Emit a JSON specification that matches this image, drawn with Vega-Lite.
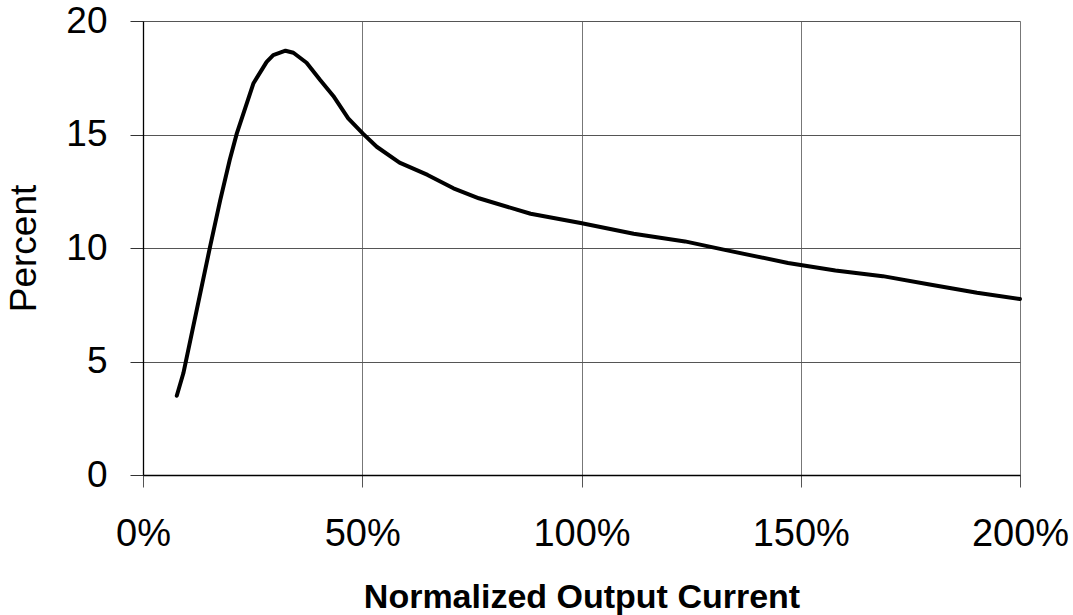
{
  "$schema": "https://vega.github.io/schema/vega-lite/v6.json",
  "width": 877,
  "height": 454,
  "autosize": {"type": "none"},
  "padding": {"left": 143, "top": 21, "right": 53, "bottom": 140},
  "background": "white",
  "config": {
    "view": {"stroke": null},
    "font": "Liberation Sans"
  },
  "data": {
    "values": [
      {"current": 7.7, "percent": 3.49},
      {"current": 9.2, "percent": 4.48},
      {"current": 15.3, "percent": 10.06},
      {"current": 17.6, "percent": 12.1},
      {"current": 19.8, "percent": 13.9},
      {"current": 21.4, "percent": 15.05},
      {"current": 25.2, "percent": 17.26},
      {"current": 28.2, "percent": 18.2},
      {"current": 29.7, "percent": 18.5},
      {"current": 32.5, "percent": 18.69},
      {"current": 34.3, "percent": 18.6},
      {"current": 37.3, "percent": 18.16},
      {"current": 40.4, "percent": 17.4},
      {"current": 43.4, "percent": 16.7},
      {"current": 46.8, "percent": 15.71},
      {"current": 50.1, "percent": 15.05},
      {"current": 53.3, "percent": 14.46},
      {"current": 58.5, "percent": 13.76},
      {"current": 64.9, "percent": 13.22},
      {"current": 70.8, "percent": 12.63},
      {"current": 76.6, "percent": 12.19},
      {"current": 88.4, "percent": 11.51},
      {"current": 99.8, "percent": 11.1},
      {"current": 111.9, "percent": 10.63},
      {"current": 123.6, "percent": 10.29},
      {"current": 132.4, "percent": 9.93},
      {"current": 147.1, "percent": 9.34},
      {"current": 157.9, "percent": 9.01},
      {"current": 168.7, "percent": 8.76},
      {"current": 179.4, "percent": 8.39},
      {"current": 190.2, "percent": 8.03},
      {"current": 200, "percent": 7.75}
    ]
  },
  "mark": {"type": "line", "color": "black", "strokeWidth": 4, "strokeJoin": "round", "strokeCap": "round"},
  "encoding": {
    "x": {
      "field": "current",
      "type": "quantitative",
      "scale": {"domain": [0, 200], "nice": false, "zero": true},
      "axis": {
        "title": "Normalized Output Current",
        "values": [0, 50, 100, 150, 200],
        "labelExpr": "datum.value + '%'",
        "labelFont": "Liberation Sans",
        "labelFontSize": 38,
        "labelColor": "black",
        "labelBaseline": "alphabetic",
        "labelPadding": 58,
        "labelFlush": false,
        "labelOverlap": false,
        "tickSize": 12,
        "tickColor": "#555555",
        "tickWidth": 1,
        "domainColor": "black",
        "domainWidth": 1.3,
        "grid": true,
        "gridColor": "#777777",
        "gridWidth": 1,
        "titleFont": "Liberation Sans",
        "titleFontSize": 34,
        "titleFontWeight": "bold",
        "titleColor": "black",
        "titleBaseline": "alphabetic",
        "titleY": 132
      }
    },
    "y": {
      "field": "percent",
      "type": "quantitative",
      "scale": {"domain": [0, 20], "nice": false, "zero": true},
      "axis": {
        "title": "Percent",
        "values": [0, 5, 10, 15, 20],
        "labelFont": "Liberation Sans",
        "labelFontSize": 37,
        "labelColor": "black",
        "labelPadding": 23,
        "labelFlush": false,
        "labelOverlap": false,
        "tickSize": 13,
        "tickColor": "#333333",
        "tickWidth": 1,
        "domainColor": "black",
        "domainWidth": 1.3,
        "grid": true,
        "gridColor": "#555555",
        "gridWidth": 1,
        "titleFont": "Liberation Sans",
        "titleFontSize": 37,
        "titleFontWeight": "normal",
        "titleColor": "black",
        "titleBaseline": "alphabetic",
        "titleX": -108,
        "titleY": 227
      }
    }
  }
}
